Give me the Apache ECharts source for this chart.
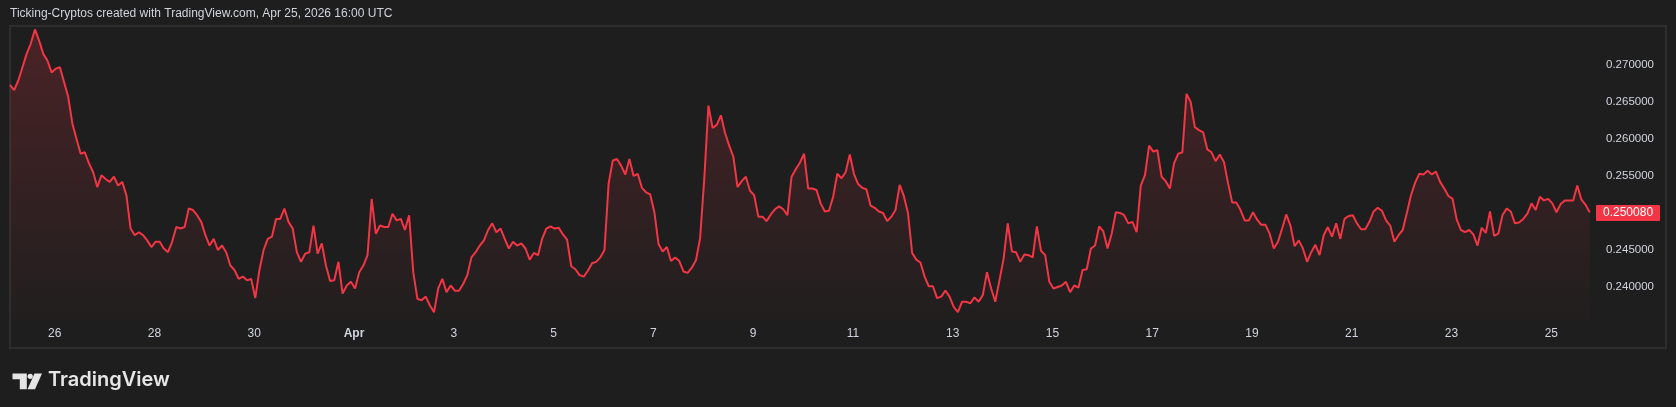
<!DOCTYPE html>
<html><head><meta charset="utf-8">
<script src="https://cdn.jsdelivr.net/npm/echarts@6/dist/echarts.min.js"></script>
<style>html,body{margin:0;padding:0;background:#1e1e1e;}#c{width:1676px;height:407px;}</style>
</head><body><div id="c"></div>
<script>
const titleText = 'Ticking-Cryptos created with TradingView.com, Apr 25, 2026 16:00 UTC';
const lastPriceLabel = '0.250080';
const startTime = Date.UTC(2026, 2, 25, 2, 30);
const stepHours = 2;
const viewStart = Date.UTC(2026, 2, 25, 2, 30);
const viewEnd = Date.UTC(2026, 3, 25, 21, 30);

const pricesSeg1 = [0.2673,0.2666,0.2679,0.2697,0.2715,0.2729,0.2748,0.2733,0.2715,0.2706,
0.2690,0.2695,0.2697,0.2677,0.2657,0.2621,0.2600,0.2580,0.2582,0.2567,
0.2555,0.2535,0.2551,0.2546,0.2542,0.2549,0.2537,0.2542,0.2524,0.2479,
0.2470,0.2474,0.2470,0.2463,0.2454,0.2461,0.2461,0.2452,0.2447,0.2461,
0.2481,0.2479,0.2481,0.2506,0.2504,0.2497,0.2488,0.2470,0.2456,0.2465,
0.2450,0.2456,0.2447,0.2429,0.2423,0.2411,0.2414,0.2409,0.2411,0.2385,
0.2423,0.2450,0.2465,0.2468,0.2492];
const pricesSeg2 = [0.2492,0.2506,0.2488,0.2479,0.2447,0.2434,0.2445,0.2447,0.2483,0.2445,
0.2459,0.2429,0.2408,0.2409,0.2434,0.2391,0.2402,0.2407,0.2398,0.2420,
0.2429,0.2443,0.2519,0.2472,0.2483,0.2481,0.2481,0.2499,0.2490,0.2492,
0.2477,0.2497,0.2420,0.2384,0.2382,0.2387,0.2375,0.2366,0.2398,0.2411,
0.2393,0.2402,0.2395,0.2395,0.2404,0.2416,0.2440,0.2447,0.2456,0.2463,
0.2477,0.2486,0.2474,0.2479,0.2465,0.2452,0.2461,0.2456,0.2459,0.2452,
0.2437,0.2446,0.2443];
const pricesSeg3 = [0.2465,0.2479,0.2482,0.2479,0.2480,0.2471,0.2464,0.2428,0.2424,0.2416,
0.2414,0.2422,0.2432,0.2434,0.2440,0.2450,0.2540,0.2571,0.2573,0.2564,
0.2552,0.2573,0.2550,0.2553,0.2534,0.2528,0.2525,0.2501,0.2458,0.2448,
0.2454,0.2435,0.2440,0.2435,0.2421,0.2419,0.2426,0.2436,0.2466,0.2546,
0.2645,0.2615,0.2619,0.2632,0.2608,0.2591,0.2576,0.2535,0.2543,0.2549,
0.2530,0.2524,0.2495,0.2495,0.2489,0.2498,0.2505,0.2509,0.2505,0.2497,
0.2549,0.2559,0.2568,0.2580];
const pricesSeg4 = [0.2533,0.2533,0.2531,0.2513,0.2502,0.2503,0.2522,0.2553,0.2547,0.2555,
0.2579,0.2553,0.2539,0.2534,0.2532,0.2510,0.2507,0.2502,0.2500,0.2489,
0.2495,0.2504,0.2538,0.2523,0.2500,0.2446,0.2437,0.2433,0.2414,0.2401,
0.2401,0.2385,0.2387,0.2395,0.2387,0.2373,0.2366,0.2380,0.2380,0.2378,
0.2386,0.2380,0.2389,0.2420,0.2398,0.2380,0.2409,0.2438,0.2486,0.2448,
0.2447,0.2434,0.2444,0.2443,0.2440,0.2482,0.2449,0.2443,0.2407,0.2398,
0.2400,0.2402,0.2407];
const pricesSeg5 = [0.2393,0.2402,0.2399,0.2423,0.2424,0.2452,0.2456,0.2482,0.2475,0.2452,
0.2472,0.2501,0.2500,0.2497,0.2486,0.2488,0.2474,0.2537,0.2551,0.2591,
0.2583,0.2585,0.2549,0.2543,0.2533,0.2567,0.2580,0.2582,0.2661,0.2650,
0.2616,0.2612,0.2609,0.2586,0.2582,0.2570,0.2579,0.2569,0.2540,0.2514,
0.2514,0.2504,0.2490,0.2490,0.2501,0.2491,0.2484,0.2484,0.2472,0.2452,
0.2461,0.2479,0.2498,0.2483,0.2455,0.2463,0.2452,0.2434,0.2447,0.2457,
0.2443,0.2470,0.2481,0.2468];
const pricesSeg6 = [0.2486,0.2465,0.2492,0.2496,0.2497,0.2486,0.2478,0.2478,0.2488,0.2502,
0.2507,0.2503,0.2490,0.2483,0.2461,0.2470,0.2477,0.2500,0.2524,0.2541,
0.2553,0.2552,0.2557,0.2552,0.2556,0.2542,0.2533,0.2523,0.2519,0.2491,
0.2477,0.2474,0.2477,0.2471,0.2456,0.2480,0.2473,0.2502,0.2469,0.2472,
0.2497,0.2506,0.2502,0.2486,0.2487,0.2492,0.2499,0.2513,0.2504,0.2522,
0.2517,0.2519,0.2513,0.2501,0.2512,0.2517,0.2517,0.2517,0.2537,0.2518,
0.2511,0.25008];

const priceTicks = [0.240, 0.245, 0.255, 0.260, 0.265, 0.270];
const dateTicks = ['2026-03-26','2026-03-28','2026-03-30','2026-04-01','2026-04-03','2026-04-05','2026-04-07','2026-04-09','2026-04-11','2026-04-13','2026-04-15','2026-04-17','2026-04-19','2026-04-21','2026-04-23','2026-04-25'];
const dateTickLabels = ['26','28','30','Apr','3','5','7','9','11','13','15','17','19','21','23','25'];

const prices = [].concat(pricesSeg1, pricesSeg2, pricesSeg3, pricesSeg4, pricesSeg5, pricesSeg6);
const seriesData = prices.map((p, i) => [startTime + i * stepHours * 3600000, p]);
const tickTimes = dateTicks.map(d => Date.parse(d + 'T00:00:00Z'));
const lastPrice = prices[prices.length - 1];

const chart = echarts.init(document.getElementById('c'), null, {renderer: 'canvas'});
const RED = '#f23645';
const FONT = '"Liberation Sans", Arial, sans-serif';
chart.setOption({
  backgroundColor: '#1e1e1e',
  animation: false,
  grid: {left: 10, width: 1586, top: 26.5, height: 293.04, containLabel: false, outerBoundsMode: 'none'},
  xAxis: {
    type: 'value', min: viewStart, max: viewEnd,
    axisLine: {show: false}, axisTick: {show: false}, splitLine: {show: false},
    axisLabel: {
      customValues: tickTimes,
      color: '#d1d4dc', fontSize: 12, fontFamily: FONT, margin: 8,
      hideOverlap: false, showMinLabel: true, showMaxLabel: true,
      formatter: function (v) {
        let idx = -1;
        for (let k = 0; k < tickTimes.length; k++) { if (Math.abs(tickTimes[k] - v) < 1000) { idx = k; break; } }
        if (idx < 0) return '';
        const t = dateTickLabels[idx];
        return /[A-Za-z]/.test(t) ? '{b|' + t + '}' : t;
      },
      rich: {b: {fontWeight: 'bold', color: '#d1d4dc', fontSize: 12, fontFamily: FONT}}
    }
  },
  yAxis: {
    type: 'value', position: 'right', min: 0.2356, max: 0.2752,
    axisLine: {show: false}, axisTick: {show: false}, splitLine: {show: false},
    axisLabel: {
      customValues: priceTicks,
      color: '#d1d4dc', fontSize: 11.5, fontFamily: FONT, margin: 10,
      formatter: v => v.toFixed(6)
    }
  },
  series: [{
    type: 'line', data: seriesData, showSymbol: false, symbol: 'none', clip: false,
    lineStyle: {color: RED, width: 2},
    itemStyle: {color: RED},
    areaStyle: {
      origin: 'start',
      color: new echarts.graphic.LinearGradient(0, 26, 0, 320, [
        {offset: 0, color: 'rgba(242,54,69,0.30)'},
        {offset: 1, color: 'rgba(242,54,69,0.02)'}
      ], true)
    },
    markLine: {
      silent: true, symbol: ['none', 'none'], animation: false,
      lineStyle: {color: 'rgba(0,0,0,0)', width: 1, type: 'solid'},
      label: {
        show: true, position: 'end', distance: 0,
        formatter: lastPriceLabel,
        backgroundColor: RED, color: '#ffffff', fontSize: 12, fontFamily: FONT,
        padding: [2, 7, 2, 7], lineHeight: 12, borderRadius: 1
      },
      data: [{yAxis: lastPrice}]
    }
  }],
  graphic: [
    {type: 'rect', shape: {x: 10, y: 26, width: 1656, height: 322}, style: {fill: 'none', stroke: '#2e2e2e', lineWidth: 2}, silent: true, z: -1},
    {type: 'text', left: 10, top: 8, style: {text: titleText, fill: '#d1d4dc', font: '12px ' + FONT}},
    {type: 'polygon', shape: {points: [[12.5,373.6],[26.8,373.6],[26.8,389.3],[19.8,389.3],[19.8,379.2],[12.5,379.2]]}, style: {fill: '#e6e6e6'}},
    {type: 'circle', shape: {cx: 30.2, cy: 376.3, r: 2.6}, style: {fill: '#e6e6e6'}},
    {type: 'polygon', shape: {points: [[34.5,373.6],[42,373.6],[35,389.3],[27.5,389.3]]}, style: {fill: '#e6e6e6'}},
    {type: 'text', left: 48, top: 370, style: {text: 'TradingView', fill: '#e6e6e6', font: '600 20px Inter, "Open Sans", sans-serif'}}
  ]
});
</script></body></html>
